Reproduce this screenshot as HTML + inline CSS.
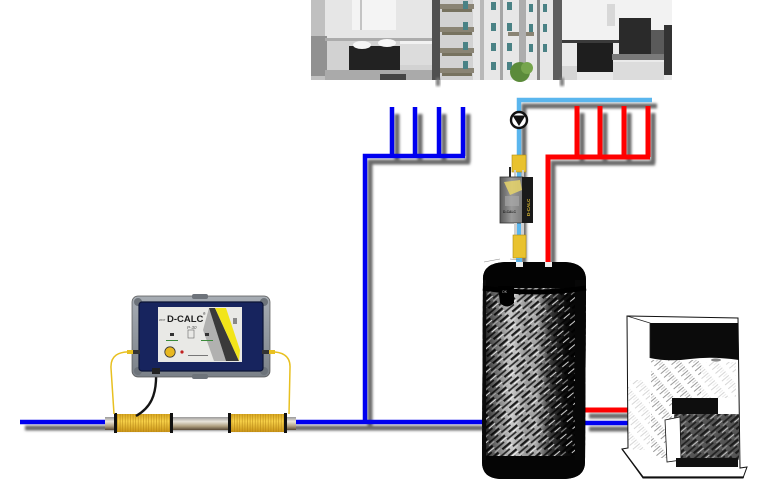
<!DOCTYPE html>
<html><head><meta charset="utf-8"><style>
html,body{margin:0;padding:0;background:#fff;}
svg{display:block;}
</style></head><body>
<svg width="767" height="484" viewBox="0 0 767 484" xmlns="http://www.w3.org/2000/svg" font-family="Liberation Sans, sans-serif">
<defs>
  <filter id="bl" x="-20%" y="-20%" width="140%" height="140%"><feGaussianBlur stdDeviation="1.3"/></filter>
  <linearGradient id="tankG" x1="0" y1="0" x2="1" y2="0">
    <stop offset="0" stop-color="#080808"/>
    <stop offset="0.08" stop-color="#4a4a4a"/>
    <stop offset="0.28" stop-color="#c8c8c8"/>
    <stop offset="0.42" stop-color="#9a9a9a"/>
    <stop offset="0.52" stop-color="#aaa"/>
    <stop offset="0.66" stop-color="#3a3a3a"/>
    <stop offset="0.8" stop-color="#0e0e0e"/>
    <stop offset="1" stop-color="#000"/>
  </linearGradient>
  <pattern id="hatch" width="16" height="9" patternUnits="userSpaceOnUse" patternTransform="rotate(-40)">
    <line x1="0" y1="1" x2="16" y2="1" stroke="#000" stroke-width="2.4" stroke-dasharray="11 5" opacity="0.85"/>
    <line x1="3" y1="3.5" x2="16" y2="3.5" stroke="#fff" stroke-width="1" stroke-dasharray="8 8" opacity="0.8"/>
    <line x1="0" y1="5.6" x2="16" y2="5.6" stroke="#000" stroke-width="1.6" stroke-dasharray="6 4" opacity="0.8"/>
    <line x1="8" y1="7.8" x2="16" y2="7.8" stroke="#eee" stroke-width="0.9" stroke-dasharray="7 9" opacity="0.6"/>
  </pattern>
  <pattern id="hatchL" width="14" height="5" patternUnits="userSpaceOnUse" patternTransform="rotate(-40)">
    <line x1="0" y1="1" x2="14" y2="1" stroke="#555" stroke-width="1" stroke-dasharray="9 5" opacity="0.6"/>
    <line x1="4" y1="3.5" x2="14" y2="3.5" stroke="#777" stroke-width="0.7" stroke-dasharray="5 9" opacity="0.5"/>
  </pattern>
  <linearGradient id="metal" x1="0" y1="0" x2="0" y2="1">
    <stop offset="0" stop-color="#9a9a9a"/>
    <stop offset="0.35" stop-color="#e9e4da"/>
    <stop offset="0.7" stop-color="#b0a080"/>
    <stop offset="1" stop-color="#5a4a36"/>
  </linearGradient>
  <linearGradient id="coilG" x1="0" y1="0" x2="0" y2="1">
    <stop offset="0" stop-color="#d9a820"/>
    <stop offset="0.4" stop-color="#f8d24a"/>
    <stop offset="1" stop-color="#c99418"/>
  </linearGradient>
  <pattern id="coilP" width="2.6" height="20" patternUnits="userSpaceOnUse">
    <line x1="0.5" y1="0" x2="0.5" y2="20" stroke="#b07f10" stroke-width="0.7" opacity="0.7"/>
  </pattern>
  <linearGradient id="caseG" x1="0" y1="0" x2="0" y2="1">
    <stop offset="0" stop-color="#a7adb4"/>
    <stop offset="1" stop-color="#7b8188"/>
  </linearGradient>
  <linearGradient id="devG" x1="0" y1="0" x2="1" y2="0">
    <stop offset="0" stop-color="#5a5a5a"/>
    <stop offset="0.5" stop-color="#9a9a9a"/>
    <stop offset="1" stop-color="#7a7a7a"/>
  </linearGradient>
  <clipPath id="tankClip">
    <path d="M483,280 Q482,263 505,262 L565,262 Q586,263 586,280 L585,462 Q585,478 565,479 L500,479 Q482,478 482,462 Z"/>
  </clipPath>
</defs>

<!-- ===== PHOTO STRIP ===== -->
<g>
  <rect x="311" y="0" width="121" height="80" fill="#d2d2d2"/>
  <rect x="311" y="0" width="121" height="38" fill="#e6e6e6"/>
  <rect x="352" y="0" width="44" height="30" fill="#f4f4f4"/>
  <rect x="360" y="0" width="2" height="30" fill="#c4c4c4"/>
  <rect x="311" y="0" width="14" height="80" fill="#c0c0c0"/>
  <rect x="311" y="36" width="16" height="40" fill="#919191"/>
  <rect x="325" y="38" width="107" height="3" fill="#acacac"/>
  <rect x="349" y="46" width="51" height="26" fill="#222"/>
  <ellipse cx="362" cy="45" rx="9" ry="4" fill="#f6f6f6"/>
  <ellipse cx="387" cy="43" rx="9" ry="4" fill="#f6f6f6"/>
  <rect x="400" y="41" width="32" height="24" fill="#dcdcdc"/>
  <rect x="400" y="41" width="32" height="3" fill="#f2f2f2"/>
  <rect x="325" y="70" width="107" height="10" fill="#aaa"/>
  <rect x="380" y="74" width="26" height="6" fill="#444"/>
  <rect x="432" y="0" width="130" height="80" fill="#e7e7e7"/>
  <rect x="432" y="0" width="8" height="80" fill="#505050"/>
  <rect x="440" y="0" width="33" height="80" fill="#d2d2d2"/>
  <g fill="#8a8474">
    <rect x="440" y="4" width="34" height="5"/>
    <rect x="440" y="27" width="34" height="5"/>
    <rect x="440" y="48" width="34" height="5"/>
    <rect x="440" y="68" width="34" height="5"/>
    <rect x="508" y="32" width="26" height="4"/>
  </g>
  <g fill="#77725f">
    <rect x="442" y="9" width="30" height="3"/>
    <rect x="442" y="32" width="30" height="3"/>
    <rect x="442" y="53" width="30" height="3"/>
    <rect x="442" y="73" width="30" height="3"/>
  </g>
  <rect x="480" y="0" width="4" height="80" fill="#b8b8b8"/>
  <rect x="500" y="0" width="3" height="80" fill="#a6a6a6"/>
  <rect x="519" y="0" width="7" height="80" fill="#adadad"/>
  <rect x="537" y="0" width="3" height="80" fill="#858585"/>
  <g fill="#4a8285">
    <rect x="463" y="1" width="5" height="8"/><rect x="463" y="22" width="5" height="8"/><rect x="463" y="42" width="5" height="8"/><rect x="463" y="61" width="5" height="8"/>
    <rect x="491" y="2" width="5" height="8"/><rect x="491" y="23" width="5" height="8"/><rect x="491" y="43" width="5" height="8"/><rect x="491" y="62" width="5" height="8"/>
    <rect x="507" y="2" width="5" height="8"/><rect x="507" y="23" width="5" height="8"/><rect x="507" y="43" width="5" height="8"/><rect x="507" y="62" width="5" height="8"/>
    <rect x="529" y="4" width="4" height="8"/><rect x="529" y="24" width="4" height="8"/><rect x="529" y="44" width="4" height="8"/>
    <rect x="543" y="4" width="4" height="8"/><rect x="543" y="24" width="4" height="8"/><rect x="543" y="44" width="4" height="8"/>
  </g>
  <circle cx="520" cy="72" r="10" fill="#5b8b3a"/>
  <circle cx="527" cy="68" r="6" fill="#76a54c"/>
  <rect x="553" y="0" width="9" height="80" fill="#5e5e5e"/>
  <rect x="562" y="0" width="110" height="80" fill="#eaeaea"/>
  <rect x="562" y="0" width="110" height="40" fill="#f2f2f2"/>
  <rect x="607" y="4" width="8" height="22" fill="#d8d8d8"/>
  <rect x="562" y="40" width="110" height="3" fill="#3a3a3a"/>
  <rect x="577" y="43" width="36" height="29" fill="#1e1e1e"/>
  <rect x="619" y="18" width="32" height="36" fill="#2a2a2a"/>
  <rect x="651" y="30" width="21" height="28" fill="#5a5a5a"/>
  <rect x="664" y="25" width="8" height="50" fill="#333"/>
  <rect x="612" y="54" width="52" height="6" fill="#7a7a7a"/>
  <rect x="562" y="66" width="15" height="14" fill="#d6d6d6"/>
  <rect x="613" y="62" width="51" height="18" fill="#dcdcdc"/>
  <rect x="436" y="78" width="4" height="8" fill="#777" filter="url(#bl)"/>
  <rect x="560" y="78" width="4" height="8" fill="#777" filter="url(#bl)"/>
</g>

<!-- ===== PIPE SHADOWS ===== -->
<g fill="none" stroke="#6a6a6a" stroke-width="5" filter="url(#bl)" transform="translate(5,6)">
  <path d="M20,422 H482"/>
  <path d="M365,422 V156 H465"/>
  <path d="M392,108 V156 M415,108 V156 M439,108 V156 M463,108 V156"/>
  <path d="M519,262 V100 H652"/>
  <path d="M548,262 V157 H650"/>
  <path d="M577,107 V157 M600,107 V157 M624,107 V157 M648,107 V157"/>
  <path d="M584,410 H626 M584,423 H626"/>
</g>

<!-- ===== PIPES ===== -->
<g fill="none" stroke-linejoin="miter" stroke-linecap="butt">
  <g stroke="#0000f0" stroke-width="4.5">
    <path d="M20,422 H484"/>
    <path d="M365,424 V156 H465"/>
    <path d="M392,107 V156 M415,107 V156 M439,107 V156 M463,107 V156"/>
    <path d="M583,423 H628"/>
  </g>
  <path d="M519,266 V100 H652" stroke="#5ab6ee" stroke-width="4.5"/>
  <g stroke="#ff0000" stroke-width="5">
    <path d="M548,266 V157 H650"/>
    <path d="M577,106 V157 M600,106 V157 M624,106 V157 M648,106 V157"/>
    <path d="M583,410 H628"/>
  </g>
</g>

<!-- pump -->
<circle cx="519" cy="120" r="8" fill="#fff" stroke="#111" stroke-width="2.4"/>
<polygon points="512.5,115.5 525.5,115.5 519,126" fill="#111"/>

<!-- ===== SMALL DEVICE (center) ===== -->
<g>
  <rect x="512" y="155" width="14" height="17" fill="#e9c22e" stroke="#b08a10" stroke-width="0.6"/>
  <rect x="514" y="170" width="2" height="10" fill="#ccc"/>
  <rect x="522" y="170" width="2" height="10" fill="#ccc"/>
  <rect x="509" y="167" width="2" height="12" fill="#222"/>
  <rect x="500" y="177" width="23" height="46" fill="url(#devG)" stroke="#333" stroke-width="0.8"/>
  <polygon points="504,182 520,180 522,190 510,195" fill="#e6d46a" opacity="0.85"/>
  <rect x="505" y="196" width="14" height="10" fill="#aaa" opacity="0.6"/>
  <text x="503" y="213" font-size="3.4" fill="#222" font-weight="bold">D-CALC</text>
  <rect x="522" y="177" width="11" height="46" fill="#1a1a1a"/>
  <text transform="translate(530,216) rotate(-90)" font-size="4.5" fill="#d6b530" font-weight="bold">D-CALC</text>
  <rect x="514" y="223" width="3" height="13" fill="#d0d0d0"/>
  <rect x="521" y="223" width="3" height="13" fill="#d0d0d0"/>
  <rect x="513" y="235" width="13" height="23" fill="#e9c22e" stroke="#b08a10" stroke-width="0.6"/>
  <rect x="516" y="258" width="6" height="8" fill="#5ab6ee"/>
</g>

<!-- ===== TANK ===== -->
<g>
  <g clip-path="url(#tankClip)">
    <rect x="480" y="260" width="110" height="222" fill="#000"/>
    <rect x="482" y="282" width="104" height="180" fill="url(#tankG)"/>
    <rect x="482" y="282" width="104" height="180" fill="url(#hatch)"/>
    <rect x="480" y="260" width="110" height="28" fill="#030303"/>
    <rect x="480" y="456" width="110" height="26" fill="#050505"/>
    <rect x="480" y="280" width="6" height="180" fill="#0a0a0a"/>
    <rect x="575" y="280" width="12" height="180" fill="#070707"/>
  </g>
  <path d="M483,288 Q534,296 586,288" fill="none" stroke="#000" stroke-width="5"/>
  <path d="M498,286 L514,286 L514,303 Q507,310 500,303 Z" fill="#000"/>
  <text x="502" y="293" font-size="3.5" fill="#bbb">OK</text>
  <rect x="516" y="262" width="7" height="5" fill="#eee"/>
  <rect x="545" y="262" width="7" height="5" fill="#eee"/>
  <path d="M484,262 l16,-3 M510,259 l10,1" stroke="#888" stroke-width="0.6"/>
</g>

<!-- ===== BOILER ===== -->
<g>
  <path d="M627,316 L738,318 L740,468 L747,467 L743,478 L643,478 L622,449 L628,448 Z" fill="#fff" stroke="#111" stroke-width="1"/>
  <path d="M650,323 L738,323 L739,360 Q712,356 690,359 Q668,362 650,358 Z" fill="#0b0b0b"/>
  <path d="M627,316 L650,323 L650,358" fill="none" stroke="#222" stroke-width="0.8"/>
  <rect x="651" y="360" width="50" height="98" fill="url(#hatchL)"/>
  <rect x="628" y="380" width="22" height="70" fill="url(#hatchL)" opacity="0.4"/>
  <rect x="700" y="362" width="36" height="36" fill="url(#hatchL)" opacity="0.4"/>
  <ellipse cx="716" cy="360" rx="5" ry="1.6" fill="#888"/>
  <rect x="672" y="398" width="46" height="16" fill="#0e0e0e"/>
  <rect x="674" y="414" width="65" height="46" fill="#555"/>
  <rect x="674" y="414" width="65" height="46" fill="url(#hatch)" opacity="0.8"/>
  <path d="M665,420 L680,417 L681,460 L667,462 Z" fill="#fff" stroke="#111" stroke-width="0.8"/>
  <rect x="676" y="458" width="62" height="9" fill="#111"/>
  <path d="M622,449 L643,477 L744,477" fill="none" stroke="#111" stroke-width="1.3"/>
</g>

<!-- ===== BOTTOM-LEFT ASSEMBLY ===== -->
<g>
  <rect x="105" y="417" width="191" height="13" fill="url(#metal)"/>
  <rect x="115" y="414" width="57" height="18" rx="2" fill="url(#coilG)"/>
  <rect x="115" y="414" width="57" height="18" rx="2" fill="url(#coilP)"/>
  <rect x="229" y="414" width="57" height="18" rx="2" fill="url(#coilG)"/>
  <rect x="229" y="414" width="57" height="18" rx="2" fill="url(#coilP)"/>
  <g fill="#111">
    <rect x="114" y="413" width="3" height="20"/>
    <rect x="170" y="413" width="3" height="20"/>
    <rect x="228" y="413" width="3" height="20"/>
    <rect x="284" y="413" width="3" height="20"/>
  </g>
  <path d="M134,352 Q110,350 111,368 L114,414" fill="none" stroke="#e8c020" stroke-width="1.5"/>
  <path d="M266,352 Q291,350 290,368 L289,414" fill="none" stroke="#e8c020" stroke-width="1.5"/>
  <path d="M156,372 C157,396 150,408 136,416" fill="none" stroke="#151515" stroke-width="2.4"/>
  <rect x="132" y="296" width="138" height="81" rx="6" fill="url(#caseG)" stroke="#555" stroke-width="0.7"/>
  <g fill="#6d737a">
    <circle cx="138" cy="302" r="4"/><circle cx="264" cy="302" r="4"/>
    <circle cx="138" cy="371" r="4"/><circle cx="264" cy="371" r="4"/>
    <rect x="192" y="294" width="16" height="5" rx="2"/>
    <rect x="192" y="374" width="16" height="5" rx="2"/>
  </g>
  <rect x="139" y="302" width="124" height="69" rx="3" fill="#17245e"/>
  <rect x="139" y="302" width="124" height="69" rx="3" fill="none" stroke="#0c1436" stroke-width="1.2"/>
  <rect x="158" y="307" width="84" height="55" fill="#e9e9e6"/>
  <polygon points="203,330 209,308 226,361 214,361" fill="#999" opacity="0.7"/>
  <polygon points="209,308 215,308 239,361 226,361" fill="#3a3a3a"/>
  <polygon points="215,308 226,308 240,350 239,361" fill="#f2e51a"/>
  <text x="167" y="322" font-size="9.5" font-weight="bold" fill="#1e1e1e">D-CALC</text>
  <text x="203" y="315" font-size="3.5" fill="#222">®</text>
  <text x="159" y="321" font-size="2.8" fill="#444">WNT</text>
  <text x="187" y="329" font-size="4.5" font-style="italic" fill="#555">P-30</text>
  <rect x="170" y="333" width="4" height="3" fill="#333"/>
  <rect x="205" y="333" width="4" height="3" fill="#333"/>
  <rect x="188" y="330" width="6" height="8" fill="none" stroke="#666" stroke-width="0.6"/>
  <rect x="166" y="340" width="12" height="1" fill="#3a8a3a"/>
  <rect x="201" y="340" width="12" height="1" fill="#3a8a3a"/>
  <circle cx="170" cy="352" r="5.2" fill="#e8b820" stroke="#333" stroke-width="0.8"/>
  <circle cx="182" cy="352" r="1.6" fill="#c02020"/>
  <rect x="188" y="355" width="20" height="1" fill="#777"/>
  <rect x="233" y="318" width="4" height="6" fill="#888"/>
  <rect x="132" y="350" width="8" height="4" fill="#333"/>
  <rect x="262" y="350" width="8" height="4" fill="#333"/>
  <rect x="127" y="350" width="6" height="4" fill="#e8c020"/>
  <rect x="269" y="350" width="6" height="4" fill="#e8c020"/>
  <rect x="152" y="368" width="8" height="6" fill="#222"/>
</g>
</svg>
</body></html>
